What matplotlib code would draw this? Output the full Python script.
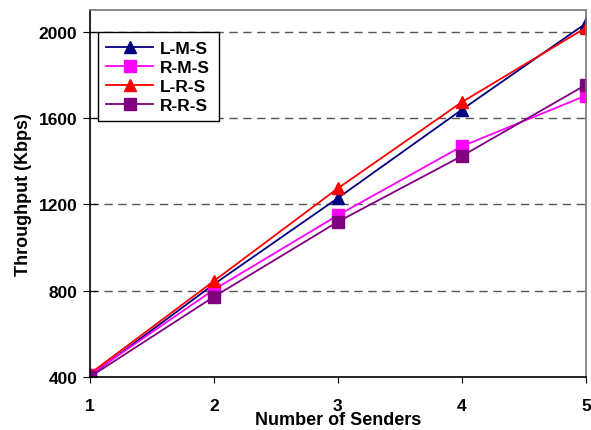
import matplotlib
matplotlib.use("Agg")
import matplotlib.pyplot as plt

plt.rcParams['font.family'] = ['Liberation Sans', 'DejaVu Sans']

senders = [1, 2, 3, 4, 5]
lms = [405, 830, 1230, 1640, 2040]
rms = [410, 805, 1150, 1470, 1705]
lrs = [415, 845, 1275, 1675, 2020]
rrs = [400, 772, 1120, 1425, 1755]
yticks = [400, 800, 1200, 1600, 2000]

fig = plt.figure(figsize=(5.91, 4.31), dpi=100)
ax = fig.add_axes([0.152, 0.123, 0.8395, 0.8515])

# gridlines behind the data
for y in yticks[1:]:
    ax.axhline(y, color='#555555', lw=1, ls=(0, (6, 4)), zorder=0)

ax.plot(senders, lms, color='#000080', marker='^', ms=9, lw=1.3, label='L-M-S')
ax.plot(senders, rms, color='#FF00FF', marker='s', ms=8, lw=1.3, label='R-M-S')
ax.plot(senders, lrs, color='#FF0000', marker='^', ms=9, lw=1.3, label='L-R-S')
ax.plot(senders, rrs, color='#800080', marker='s', ms=9, lw=1.3, label='R-R-S')

ax.set_xlim(1, 5)
ax.set_ylim(400, 2102)
ax.set_xticks(senders)
ax.set_yticks(yticks)
for s in ax.get_xticklabels() + ax.get_yticklabels():
    s.set_fontweight('bold')
ax.tick_params(axis='x', direction='out', length=4, labelsize=12.5, pad=11)
ax.tick_params(axis='y', direction='inout', length=10, labelsize=12.5, pad=4)

ax.spines['top'].set_color('#777777')
ax.spines['right'].set_color('#777777')
for sp in ax.spines.values():
    sp.set_linewidth(1.2)

ax.set_xlabel('Number of Senders', fontsize=13, fontweight='bold', labelpad=-1)
ax.set_ylabel('Throughput (Kbps)', fontsize=13, fontweight='bold', labelpad=5)

leg = ax.legend(loc='upper left', bbox_to_anchor=(0.016, 0.94), borderaxespad=0,
                fancybox=False, edgecolor='black', framealpha=1, handlelength=2.7,
                prop={'weight': 'bold', 'size': 12.5}, labelspacing=0.22,
                borderpad=0.5, handletextpad=0.4)
leg.get_frame().set_linewidth(1.0)

fig.savefig('out.png', dpi=100)
